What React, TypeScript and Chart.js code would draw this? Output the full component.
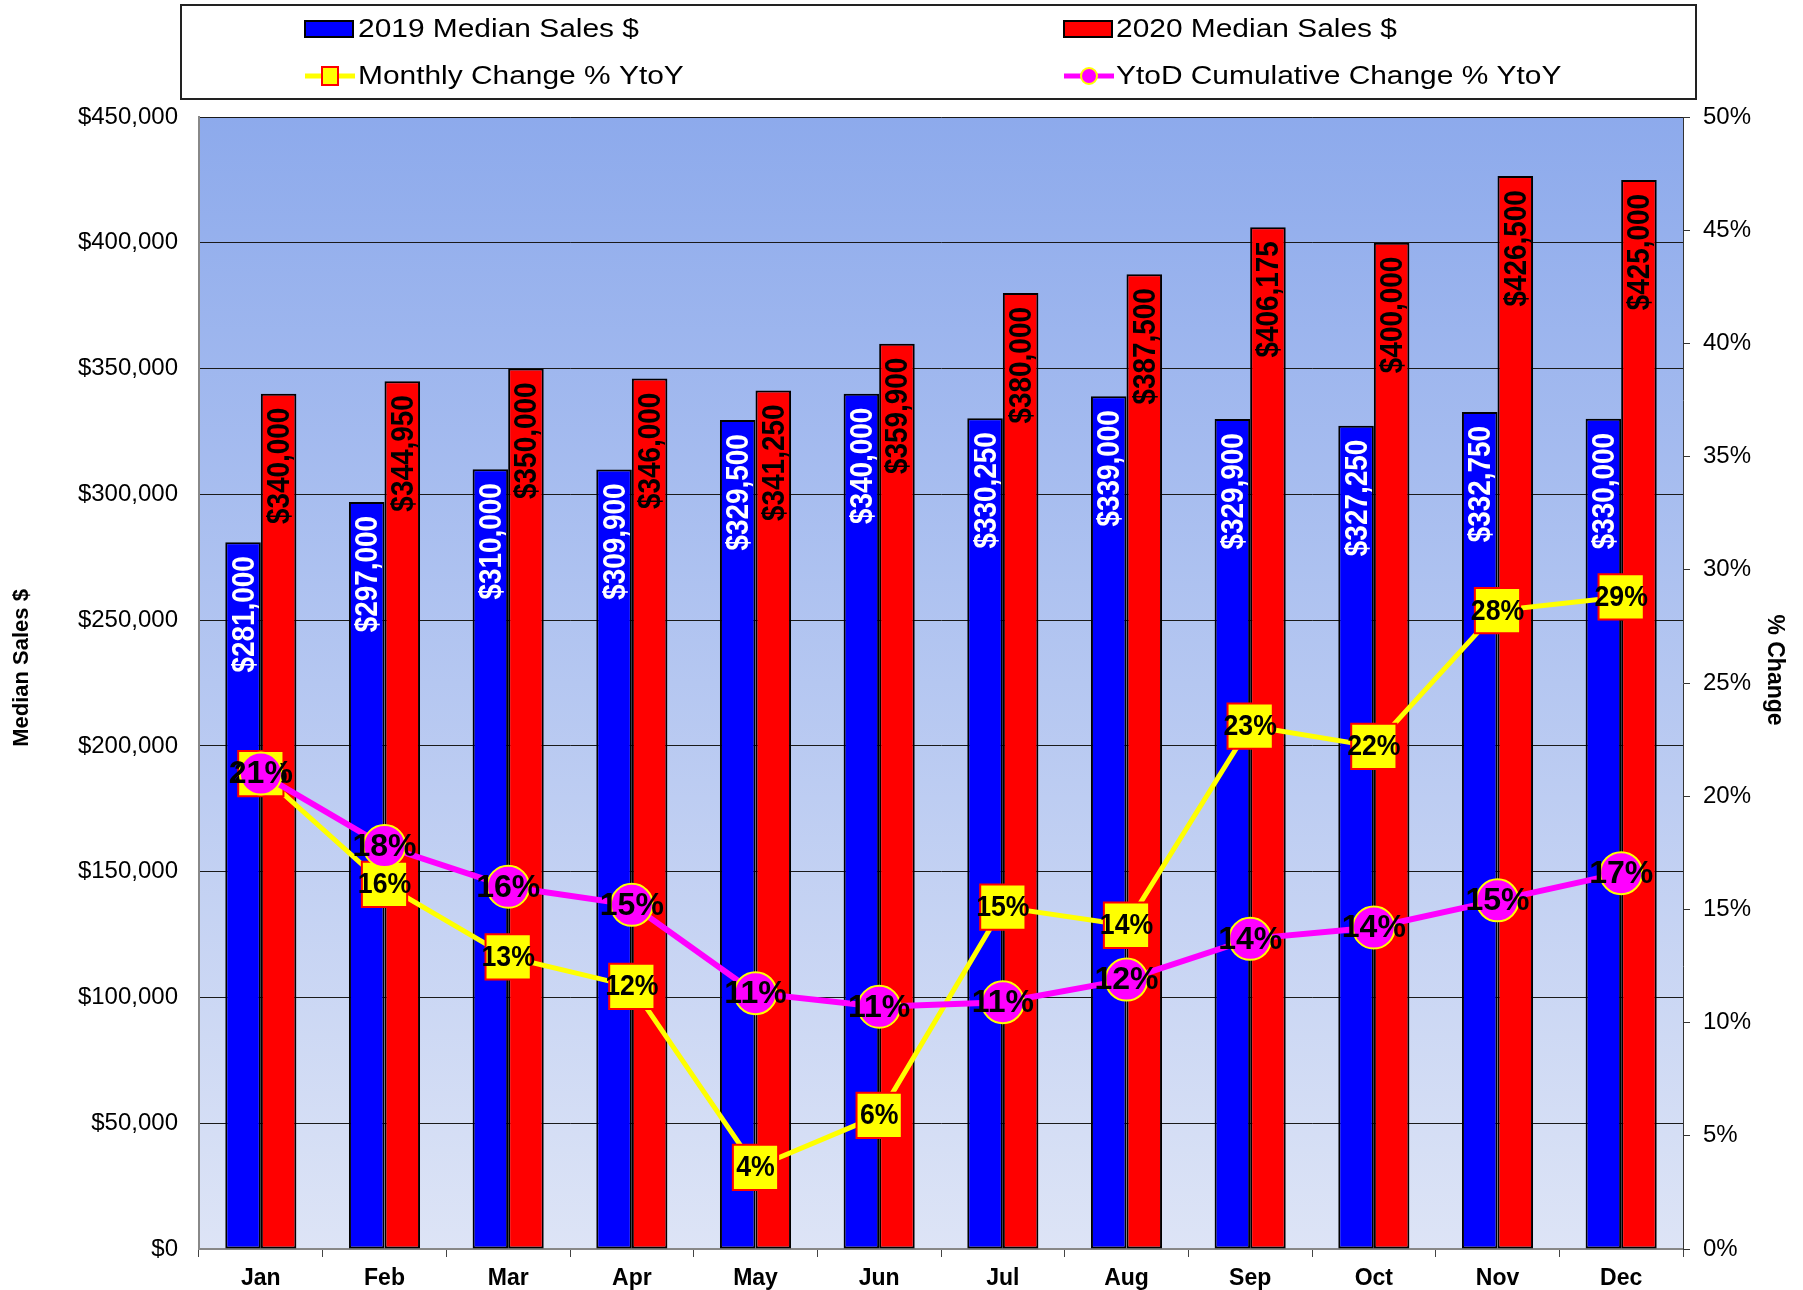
import React, { useEffect, useRef } from 'react';
import { Chart, registerables } from 'chart.js';

Chart.register(...registerables);

const months = ['Jan', 'Feb', 'Mar', 'Apr', 'May', 'Jun', 'Jul', 'Aug', 'Sep', 'Oct', 'Nov', 'Dec'];
const sales2019 = [281000, 297000, 310000, 309900, 329500, 340000, 330250, 339000, 329900, 327250, 332750, 330000];
const sales2020 = [340000, 344950, 350000, 346000, 341250, 359900, 380000, 387500, 406175, 400000, 426500, 425000];
const monthlyChange = [21.0, 16.1, 12.9, 11.6, 3.6, 5.9, 15.1, 14.3, 23.1, 22.2, 28.2, 28.8];
const ytdChange = [21.0, 17.8, 16.0, 15.2, 11.3, 10.7, 10.9, 11.9, 13.7, 14.2, 15.4, 16.6];
const seriesLabels = ['2019 Median Sales $', '2020 Median Sales $', 'Monthly Change % YtoY', 'YtoD Cumulative Change % YtoY'];
const leftTitle = 'Median Sales $';
const rightTitle = '% Change';

const FONT = '"Liberation Sans", Arial, Helvetica, sans-serif';

const fmtMoney = (v: number) => '$' + Number(v).toLocaleString('en-US');

function scaledText(ctx: CanvasRenderingContext2D, text: string, x: number, y: number, sx: number, align: CanvasTextAlign) {
  ctx.save();
  ctx.translate(x, y);
  ctx.scale(sx, 1);
  ctx.textAlign = align;
  ctx.fillText(text, 0, 0);
  ctx.restore();
}

const backgroundPlugin = {
  id: 'plotBackground',
  beforeDraw(chart: any) {
    const { ctx, chartArea: a } = chart;
    ctx.save();
    ctx.fillStyle = '#FFFFFF';
    ctx.fillRect(0, 0, chart.width, chart.height);
    const g = ctx.createLinearGradient(0, a.top, 0, a.bottom);
    g.addColorStop(0, '#8DAAEC');
    g.addColorStop(1, '#DDE4F6');
    ctx.fillStyle = g;
    ctx.fillRect(a.left, a.top, a.right - a.left, a.bottom - a.top);
    ctx.restore();
  },
};

const labelPlugin = {
  id: 'valueLabels',
  afterDatasetDraw(chart: any, args: any) {
    const { ctx } = chart;
    const i = args.index;
    const meta = args.meta;
    const ds = chart.data.datasets[i];
    ctx.save();
    if (meta.type === 'bar') {
      ctx.font = `bold 31px ${FONT}`;
      ctx.fillStyle = i === 0 ? '#FFFFFF' : '#000000';
      ctx.textBaseline = 'middle';
      meta.data.forEach((el: any, j: number) => {
        const text = fmtMoney(ds.data[j]);
        ctx.save();
        ctx.translate(el.x + 1, el.y + 14);
        ctx.rotate(-Math.PI / 2);
        ctx.scale(0.9, 1);
        ctx.textAlign = 'right';
        ctx.fillText(text, 0, 1);
        ctx.restore();
      });
    } else {
      const big = i === 3;
      ctx.font = big ? `bold 32px ${FONT}` : `bold 29px ${FONT}`;
      ctx.fillStyle = '#000000';
      ctx.textBaseline = 'middle';
      meta.data.forEach((el: any, j: number) => {
        const text = Math.round(ds.data[j]) + '%';
        scaledText(ctx, text, el.x, el.y + 1, big ? 1.0 : 0.92, 'center');
      });
    }
    ctx.restore();
  },
};

const titlesPlugin = {
  id: 'axisTitles',
  afterDraw(chart: any) {
    const { ctx } = chart;
    ctx.save();
    ctx.fillStyle = '#000000';
    ctx.textAlign = 'center';
    ctx.textBaseline = 'middle';
    ctx.font = `bold 22px ${FONT}`;
    ctx.save();
    ctx.translate(22, 668);
    ctx.rotate(-Math.PI / 2);
    ctx.fillText(leftTitle, 0, 0);
    ctx.restore();
    ctx.font = `bold 23px ${FONT}`;
    ctx.save();
    ctx.translate(1774, 670);
    ctx.rotate(Math.PI / 2);
    ctx.fillText(rightTitle, 0, 0);
    ctx.restore();
    ctx.restore();
  },
};

const legendPlugin = {
  id: 'boxLegend',
  afterDraw(chart: any) {
    const { ctx } = chart;
    const dss = chart.data.datasets;
    ctx.save();
    ctx.strokeStyle = '#222222';
    ctx.lineWidth = 2;
    ctx.strokeRect(181, 5, 1515, 94);

    const cols = [305, 1064];
    const rows = [29, 76];
    const textX = [358, 1116];
    ctx.font = `26px ${FONT}`;
    ctx.textBaseline = 'middle';

    [0, 1].forEach((k) => {
      const x = cols[k];
      const y = rows[0];
      ctx.fillStyle = dss[k].backgroundColor;
      ctx.fillRect(x, y - 8, 48, 16);
      ctx.strokeStyle = '#000';
      ctx.lineWidth = 2;
      ctx.strokeRect(x, y - 8, 48, 16);
      ctx.fillStyle = '#000';
      scaledText(ctx, dss[k].label, textX[k], y + 1, 1.15, 'left');
    });

    [2, 3].forEach((k, c) => {
      const x = cols[c];
      const y = rows[1];
      ctx.strokeStyle = dss[k].borderColor;
      ctx.lineWidth = 5;
      ctx.beginPath();
      ctx.moveTo(x, y);
      ctx.lineTo(x + 50, y);
      ctx.stroke();
      const cx = x + 25;
      ctx.fillStyle = dss[k].pointBackgroundColor;
      ctx.strokeStyle = dss[k].pointBorderColor;
      ctx.lineWidth = 2;
      if (k === 2) {
        ctx.fillRect(cx - 8, y - 9, 16, 18);
        ctx.strokeRect(cx - 8, y - 9, 16, 18);
      } else {
        ctx.beginPath();
        ctx.arc(cx, y, 8, 0, Math.PI * 2);
        ctx.fill();
        ctx.stroke();
      }
      ctx.fillStyle = '#000';
      scaledText(ctx, dss[k].label, textX[c], y + 1, 1.15, 'left');
    });
    ctx.restore();
  },
};

export default function App() {
  const ref = useRef<HTMLCanvasElement>(null);

  useEffect(() => {
    if (!ref.current) return;
    const chart = new Chart(ref.current, {
      type: 'bar',
      data: {
        labels: months,
        datasets: [
          {
            type: 'bar',
            label: seriesLabels[0],
            data: sales2019,
            backgroundColor: '#0000FF',
            borderColor: '#000000',
            borderWidth: 2,
            borderSkipped: false,
            categoryPercentage: 0.575,
            barPercentage: 1.0,
            yAxisID: 'y',
            order: 3,
          },
          {
            type: 'bar',
            label: seriesLabels[1],
            data: sales2020,
            backgroundColor: '#FF0000',
            borderColor: '#000000',
            borderWidth: 2,
            borderSkipped: false,
            categoryPercentage: 0.575,
            barPercentage: 1.0,
            yAxisID: 'y',
            order: 3,
          },
          {
            type: 'line',
            label: seriesLabels[2],
            data: monthlyChange,
            borderColor: '#FFFF00',
            borderWidth: 5,
            pointStyle: 'rect',
            pointRadius: 32,
            pointBackgroundColor: '#FFFF00',
            pointBorderColor: '#FF0000',
            pointBorderWidth: 2,
            tension: 0,
            fill: false,
            yAxisID: 'y1',
            order: 2,
          },
          {
            type: 'line',
            label: seriesLabels[3],
            data: ytdChange,
            borderColor: '#FF00FF',
            borderWidth: 6,
            pointStyle: 'circle',
            pointRadius: 21,
            pointBackgroundColor: '#FF00FF',
            pointBorderColor: '#FFFF00',
            pointBorderWidth: 2,
            tension: 0,
            fill: false,
            yAxisID: 'y1',
            order: 1,
          },
        ] as any,
      },
      options: {
        responsive: false,
        animation: false,
        devicePixelRatio: 1,
        layout: { padding: { top: 117, left: 0, right: 0, bottom: 0 } },
        plugins: {
          legend: { display: false },
          tooltip: { enabled: false },
        },
        scales: {
          x: {
            grid: { drawOnChartArea: false, drawTicks: true, tickLength: 8, color: '#444444', offset: true },
            border: { display: true, color: '#888888', width: 2 },
            ticks: { font: { size: 23, weight: 'bold', family: FONT }, color: '#000000', padding: 8 },
            afterFit: (s: any) => { s.height = 41; },
          },
          y: {
            position: 'left',
            min: 0,
            max: 450000,
            ticks: {
              stepSize: 50000,
              callback: (v: any) => fmtMoney(v),
              font: { size: 24, family: FONT },
              color: '#000000',
              padding: 21,
            },
            grid: { color: '#1a1a1a', lineWidth: 1, drawTicks: false },
            border: { display: true, color: '#888888', width: 2 },
            afterFit: (s: any) => { s.width = 199; },
          },
          y1: {
            position: 'right',
            min: 0,
            max: 50,
            ticks: {
              stepSize: 5,
              callback: (v: any) => v + '%',
              font: { size: 24, family: FONT },
              color: '#000000',
              padding: 13,
            },
            grid: { drawOnChartArea: false, drawTicks: true, tickLength: 7, color: '#333333' },
            border: { display: true, color: '#333333', width: 1 },
            afterFit: (s: any) => { s.width = 120; },
          },
        },
      } as any,
      plugins: [backgroundPlugin, labelPlugin, titlesPlugin, legendPlugin],
    });
    return () => chart.destroy();
  }, []);

  return (
    <div style={{ position: 'absolute', left: 0, top: 0, width: 1803, height: 1290, background: '#FFFFFF' }}>
      <canvas ref={ref} width={1803} height={1290} style={{ display: 'block', width: 1803, height: 1290 }} />
    </div>
  );
}
